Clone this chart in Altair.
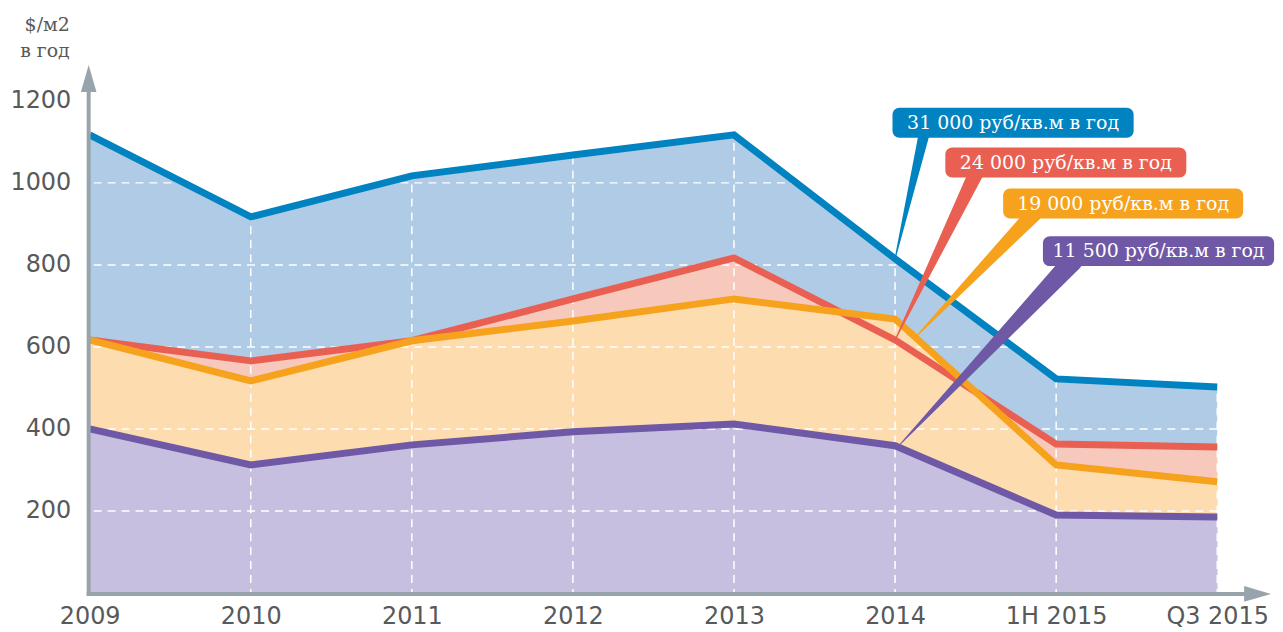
import json
import altair as alt
import pandas as pd

# ---- data ----
categories = ["2009", "2010", "2011", "2012", "2013", "2014", "1H 2015", "Q3 2015"]
blue_vals = [1117, 917, 1017, 1068, 1117, 815, 522, 502]     # 31 000 руб/кв.м в год
red_vals = [617, 566, 615, 717, 817, 617, 363, 356]          # 24 000 руб/кв.м в год
orange_vals = [617, 517, 615, 663, 717, 668, 312, 271]       # 19 000 руб/кв.м в год
purple_vals = [400, 312, 361, 393, 412, 359, 190, 185]       # 11 500 руб/кв.м в год
series_labels = ["31 000 руб/кв.м в год", "24 000 руб/кв.м в год",
                 "19 000 руб/кв.м в год", "11 500 руб/кв.м в год"]
y_ticks = [200, 400, 600, 800, 1000, 1200]
y_title = "$/м2\nв год"

# ---- styles ----
line_colors = ["#0083c0", "#e95f52", "#f6a21d", "#6f58a5"]
fill_colors = ["#afcbe5", "#f7c9bc", "#fddcb0", "#c6bfdf"]
axis_gray = "#98a4ab"
text_gray = "#58595b"
label_font = "DejaVu Sans"
callout_font = "DejaVu Serif"

W, H = 1132, 494

# callout geometry (in data space)
box_x1 = [4.984, 5.312, 5.671, 5.918]
box_x2 = [6.481, 6.808, 7.161, 7.353]
box_y1 = [1110, 1013, 913, 797]
box_y2 = [1183, 1086, 986, 870]
ptr_x = [5.182, 5.504, 5.862, 6.103]
ptr_y = [1122, 1025, 925, 809]
ptr_w = [11, 15, 16, 20]
tip_x = [5.0, 5.0, 5.13, 5.03]
tip_y = [blue_vals[5], red_vals[5], 625, 362]

all_vals = [blue_vals, red_vals, orange_vals, purple_vals]
idx = list(range(len(categories)))

xs = alt.Scale(domain=[0, len(categories) - 1], nice=False, zero=False)
ys = alt.Scale(domain=[0, 1200], nice=False)
xaxis = alt.Axis(values=idx, labelExpr=f"{json.dumps(categories)}[datum.value]",
                 domain=False, ticks=False, grid=False, labelFont=label_font,
                 labelFontSize=24, labelColor=text_gray, labelPadding=12,
                 labelAngle=0, labelAlign="center", title=None)
yaxis = alt.Axis(values=y_ticks, format="d", domain=False, ticks=False, grid=False,
                 labelFont=label_font, labelFontSize=24, labelColor=text_gray,
                 labelPadding=19, title=None)


def X(field="x"):
    return alt.X(f"{field}:Q", scale=xs, axis=xaxis)


def Y(field="y"):
    return alt.Y(f"{field}:Q", scale=ys, axis=yaxis)


layers = []
# areas
for vals, fc in zip(all_vals, fill_colors):
    df = pd.DataFrame({"x": idx, "y": vals})
    layers.append(alt.Chart(df).mark_area(color=fc, opacity=1).encode(x=X(), y=Y()))

# grid lines (white dashed, over fills)
layers.append(alt.Chart(pd.DataFrame({"y": y_ticks})).mark_rule(
    color="white", strokeWidth=1.5, strokeDash=[8, 6]).encode(y=Y()))
layers.append(alt.Chart(pd.DataFrame({"x": idx[1:]})).mark_rule(
    color="white", strokeWidth=1.5, strokeDash=[8, 6]).encode(x=X()))

# lines
for vals, lc in zip(all_vals, line_colors):
    df = pd.DataFrame({"x": idx, "y": vals})
    layers.append(alt.Chart(df).mark_line(color=lc, strokeWidth=7, strokeJoin="miter",
                                          strokeCap="butt").encode(x=X(), y=Y()))

one = pd.DataFrame({"a": [0]})
# axes lines with arrows
layers.append(alt.Chart(one).mark_rule(color=axis_gray, strokeWidth=4).encode(
    x=alt.value(-1), y=alt.value(H + 3), y2=alt.value(-10)))
layers.append(alt.Chart(one).mark_rule(color=axis_gray, strokeWidth=4).encode(
    y=alt.value(H + 1), x=alt.value(-3), x2=alt.value(W + 28)))
layers.append(alt.Chart(one).mark_point(shape="M0,-1L0.29,0L-0.29,0Z", filled=True,
                                        opacity=1, color=axis_gray, size=2916).encode(
    x=alt.value(-1), y=alt.value(-9)))
layers.append(alt.Chart(one).mark_point(shape="M1,0L0,-0.29L0,0.29Z", filled=True,
                                        opacity=1, color=axis_gray, size=2916).encode(
    x=alt.value(W + 27), y=alt.value(H + 1)))

# callout pointers
for i in range(4):
    df = pd.DataFrame({"x": [ptr_x[i], tip_x[i]], "y": [ptr_y[i], tip_y[i]],
                       "w": [ptr_w[i], 1]})
    layers.append(alt.Chart(df).mark_trail(color=line_colors[i], opacity=1).encode(
        x=X(), y=Y(), size=alt.Size("w:Q", scale=None, legend=None)))

# callout boxes and text
cdf = pd.DataFrame({"x1": box_x1, "x2": box_x2, "y1": box_y1, "y2": box_y2,
                    "label": series_labels, "color": line_colors})
cdf["xc"] = (cdf["x1"] + cdf["x2"]) / 2
cdf["yc"] = (cdf["y1"] + cdf["y2"]) / 2
layers.append(alt.Chart(cdf).mark_rect(cornerRadius=7).encode(
    x=X("x1"), x2="x2", y=Y("y1"), y2="y2",
    color=alt.Color("color:N", scale=None, legend=None)))
layers.append(alt.Chart(cdf).mark_text(font=callout_font, fontSize=19, color="white",
                                       align="center", baseline="middle").encode(
    x=X("xc"), y=Y("yc"), text="label:N"))

# y title
layers.append(alt.Chart(pd.DataFrame({"t": [y_title]})).mark_text(
    font=callout_font, fontSize=19, color=text_gray, align="right", baseline="middle",
    lineBreak="\n", lineHeight=26).encode(
    x=alt.value(-20), y=alt.value(-76), text="t:N"))

chart = alt.layer(*layers).properties(
    width=W, height=H,
    background="white",
    autosize=alt.AutoSizeParams(type="none"),
    padding={"left": 82, "top": 92, "right": 58, "bottom": 38},
).configure_axis(grid=False, domain=False, ticks=False).configure_view(stroke=None)

chart.save("out.html", embed_options={"renderer": "svg", "actions": False})
